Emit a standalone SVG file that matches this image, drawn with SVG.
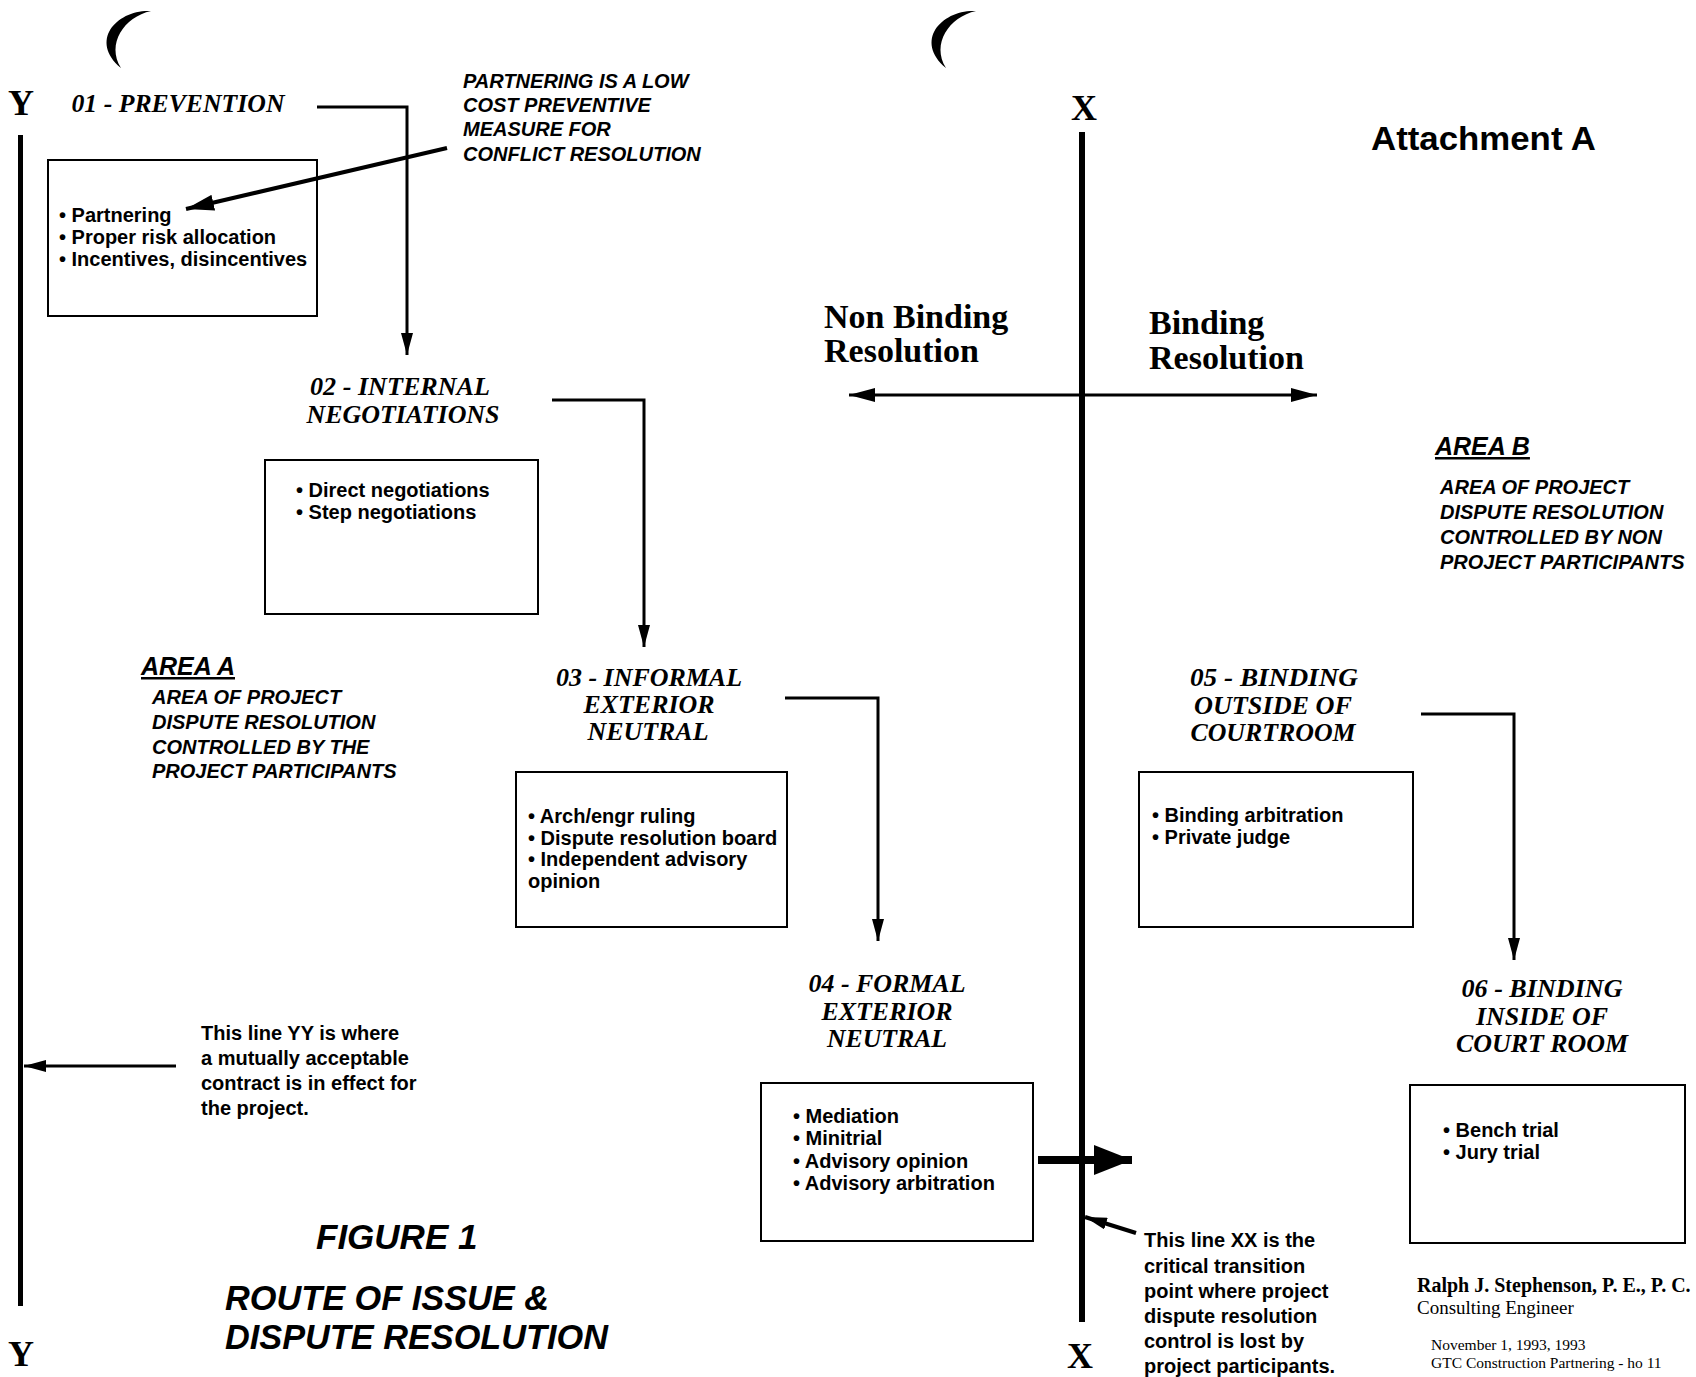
<svg xmlns="http://www.w3.org/2000/svg" width="1696" height="1377" viewBox="0 0 1696 1377">
<style>
.hd{font-family:"Liberation Serif",serif;font-weight:bold;font-style:italic;font-size:26px;fill:#000;text-anchor:middle}
.ax{font-family:"Liberation Serif",serif;font-weight:bold;font-size:36px;fill:#000;text-anchor:middle}
.bx{fill:#fff;stroke:#000;stroke-width:2}
.it{font-family:"Liberation Sans",sans-serif;font-weight:bold;font-size:20px;fill:#000}
.bi{font-family:"Liberation Sans",sans-serif;font-weight:bold;font-style:italic;font-size:20px;fill:#000}
.res{font-family:"Liberation Serif",serif;font-weight:bold;font-size:34px;fill:#000}
.ln{fill:none;stroke:#000;stroke-width:3}
</style>
<defs>
<marker id="ah" markerUnits="userSpaceOnUse" markerWidth="22" markerHeight="12" refX="22" refY="6" orient="auto"><path d="M0,0 L22,6 L0,12 Z" fill="#000"/></marker>
<marker id="ahd" markerUnits="userSpaceOnUse" markerWidth="26" markerHeight="14" refX="26" refY="7" orient="auto-start-reverse"><path d="M0,0 L26,7 L0,14 Z" fill="#000"/></marker>
<marker id="ahm" markerUnits="userSpaceOnUse" markerWidth="28" markerHeight="16" refX="28" refY="8" orient="auto"><path d="M0,0 L28,8 L0,16 Z" fill="#000"/></marker>
<marker id="ahl" markerUnits="userSpaceOnUse" markerWidth="38" markerHeight="30" refX="38" refY="15" orient="auto"><path d="M0,0 L38,15 L0,30 Z" fill="#000"/></marker>
<path id="cres" d="M151,11 C118,9 88,40 121,68 C106,44 124,17 151,11 Z" fill="#000"/>
</defs>

<g id="crescents">
<use href="#cres"/>
<use href="#cres" transform="translate(825,0)"/>
</g>

<g id="axis-y">
<text class="ax" x="21" y="115">Y</text>
<line x1="20.5" y1="135" x2="20.5" y2="1306" stroke="#000" stroke-width="5"/>
<text class="ax" x="21" y="1366">Y</text>
</g>

<g id="axis-x">
<text class="ax" x="1084" y="120">X</text>
<line x1="1082" y1="132" x2="1082" y2="1322" stroke="#000" stroke-width="6"/>
<text class="ax" x="1080" y="1368">X</text>
</g>

<g id="node-01">
<text class="hd" x="178" y="112" textLength="213" lengthAdjust="spacingAndGlyphs">01 - PREVENTION</text>
<rect class="bx" x="48" y="160" width="269" height="156"/>
<text class="it" x="59" y="222">• Partnering</text>
<text class="it" x="59" y="244">• Proper risk allocation</text>
<text class="it" x="59" y="266">• Incentives, disincentives</text>
</g>

<g id="note-partnering">
<text class="bi" x="463" y="88">PARTNERING IS A LOW</text>
<text class="bi" x="463" y="112">COST PREVENTIVE</text>
<text class="bi" x="463" y="136">MEASURE FOR</text>
<text class="bi" x="463" y="161">CONFLICT RESOLUTION</text>
</g>

<g id="node-02">
<text class="hd" x="400" y="395" textLength="180" lengthAdjust="spacingAndGlyphs">02 - INTERNAL</text>
<text class="hd" x="403" y="423" textLength="193" lengthAdjust="spacingAndGlyphs">NEGOTIATIONS</text>
<rect class="bx" x="265" y="460" width="273" height="154"/>
<text class="it" x="296" y="497">• Direct negotiations</text>
<text class="it" x="296" y="519">• Step negotiations</text>
</g>

<g id="area-a">
<text class="bi" x="141" y="675" style="font-size:25px;text-decoration:underline">AREA A</text>
<text class="bi" x="152" y="704">AREA OF PROJECT</text>
<text class="bi" x="152" y="729">DISPUTE RESOLUTION</text>
<text class="bi" x="152" y="754">CONTROLLED BY THE</text>
<text class="bi" x="152" y="778">PROJECT PARTICIPANTS</text>
</g>

<g id="node-03">
<text class="hd" x="649" y="686" textLength="186" lengthAdjust="spacingAndGlyphs">03 - INFORMAL</text>
<text class="hd" x="649" y="713" textLength="131" lengthAdjust="spacingAndGlyphs">EXTERIOR</text>
<text class="hd" x="648" y="740" textLength="121" lengthAdjust="spacingAndGlyphs">NEUTRAL</text>
<rect class="bx" x="516" y="772" width="271" height="155"/>
<text class="it" x="528" y="823">• Arch/engr ruling</text>
<text class="it" x="528" y="845">• Dispute resolution board</text>
<text class="it" x="528" y="866">• Independent advisory</text>
<text class="it" x="528" y="888">opinion</text>
</g>

<g id="node-04">
<text class="hd" x="887" y="992" textLength="157" lengthAdjust="spacingAndGlyphs">04 - FORMAL</text>
<text class="hd" x="887" y="1020" textLength="131" lengthAdjust="spacingAndGlyphs">EXTERIOR</text>
<text class="hd" x="887" y="1047" textLength="120" lengthAdjust="spacingAndGlyphs">NEUTRAL</text>
<rect class="bx" x="761" y="1083" width="272" height="158"/>
<text class="it" x="793" y="1123">• Mediation</text>
<text class="it" x="793" y="1145">• Minitrial</text>
<text class="it" x="793" y="1168">• Advisory opinion</text>
<text class="it" x="793" y="1190">• Advisory arbitration</text>
</g>

<g id="resolution-labels">
<text class="res" x="824" y="328">Non Binding</text>
<text class="res" x="824" y="362">Resolution</text>
<text class="res" x="1149" y="334">Binding</text>
<text class="res" x="1149" y="369">Resolution</text>
</g>

<g id="attachment">
<text x="1371" y="150" style="font-family:'Liberation Sans',sans-serif;font-weight:bold;font-size:33px" textLength="225" lengthAdjust="spacingAndGlyphs">Attachment A</text>
</g>

<g id="area-b">
<text class="bi" x="1435" y="455" style="font-size:25px;text-decoration:underline">AREA B</text>
<text class="bi" x="1440" y="494">AREA OF PROJECT</text>
<text class="bi" x="1440" y="519">DISPUTE RESOLUTION</text>
<text class="bi" x="1440" y="544">CONTROLLED BY NON</text>
<text class="bi" x="1440" y="569">PROJECT PARTICIPANTS</text>
</g>

<g id="node-05">
<text class="hd" x="1274" y="686" textLength="168" lengthAdjust="spacingAndGlyphs">05 -  BINDING</text>
<text class="hd" x="1273" y="714" textLength="158" lengthAdjust="spacingAndGlyphs">OUTSIDE OF</text>
<text class="hd" x="1273" y="741" textLength="165" lengthAdjust="spacingAndGlyphs">COURTROOM</text>
<rect class="bx" x="1139" y="772" width="274" height="155"/>
<text class="it" x="1152" y="822">• Binding arbitration</text>
<text class="it" x="1152" y="844">• Private judge</text>
</g>

<g id="node-06">
<text class="hd" x="1542" y="997" textLength="161" lengthAdjust="spacingAndGlyphs">06 - BINDING</text>
<text class="hd" x="1542" y="1025" textLength="132" lengthAdjust="spacingAndGlyphs">INSIDE OF</text>
<text class="hd" x="1542" y="1052" textLength="172" lengthAdjust="spacingAndGlyphs">COURT ROOM</text>
<rect class="bx" x="1410" y="1085" width="275" height="158"/>
<text class="it" x="1443" y="1137">• Bench trial</text>
<text class="it" x="1443" y="1159">• Jury trial</text>
</g>

<g id="note-yy">
<text class="it" x="201" y="1040">This line YY is where</text>
<text class="it" x="201" y="1065">a mutually acceptable</text>
<text class="it" x="201" y="1090">contract is in effect for</text>
<text class="it" x="201" y="1115">the project.</text>
</g>

<g id="note-xx">
<text class="it" x="1144" y="1247">This line XX is the</text>
<text class="it" x="1144" y="1273">critical transition</text>
<text class="it" x="1144" y="1298">point where project</text>
<text class="it" x="1144" y="1323">dispute resolution</text>
<text class="it" x="1144" y="1348">control is lost by</text>
<text class="it" x="1144" y="1373">project participants.</text>
</g>

<g id="title">
<text class="bi" x="316" y="1249" style="font-size:35px">FIGURE 1</text>
<text class="bi" x="225" y="1310" style="font-size:34.3px">ROUTE OF ISSUE &amp;</text>
<text class="bi" x="225" y="1349" style="font-size:34.3px">DISPUTE RESOLUTION</text>
</g>

<g id="credit">
<text x="1417" y="1292" style="font-family:'Liberation Serif',serif;font-weight:bold;font-size:20px">Ralph J. Stephenson, P. E., P. C.</text>
<text x="1417" y="1314" style="font-family:'Liberation Serif',serif;font-size:19px">Consulting Engineer</text>
<text x="1431" y="1350" style="font-family:'Liberation Serif',serif;font-size:15.5px">November 1, 1993, 1993</text>
<text x="1431" y="1368" style="font-family:'Liberation Serif',serif;font-size:15.5px">GTC Construction Partnering - ho 11</text>
</g>

<g id="connectors">
<polyline class="ln" points="317,107 407,107 407,355" marker-end="url(#ah)"/>
<polyline class="ln" points="552,400 644,400 644,647" marker-end="url(#ah)"/>
<polyline class="ln" points="785,698 878,698 878,941" marker-end="url(#ah)"/>
<polyline class="ln" points="1421,714 1514,714 1514,960" marker-end="url(#ah)"/>
<line x1="447" y1="148" x2="186" y2="209" stroke="#000" stroke-width="4" marker-end="url(#ahm)"/>
<line x1="1082" y1="395" x2="849" y2="395" class="ln" marker-end="url(#ahd)"/>
<line x1="1082" y1="395" x2="1317" y2="395" class="ln" marker-end="url(#ahd)"/>
<line x1="1038" y1="1160" x2="1132" y2="1160" stroke="#000" stroke-width="8" marker-end="url(#ahl)"/>
<line x1="176" y1="1066" x2="24" y2="1066" class="ln" marker-end="url(#ah)"/>
<line x1="1136" y1="1233" x2="1085" y2="1217" stroke="#000" stroke-width="4" marker-end="url(#ah)"/>
</g>
</svg>
